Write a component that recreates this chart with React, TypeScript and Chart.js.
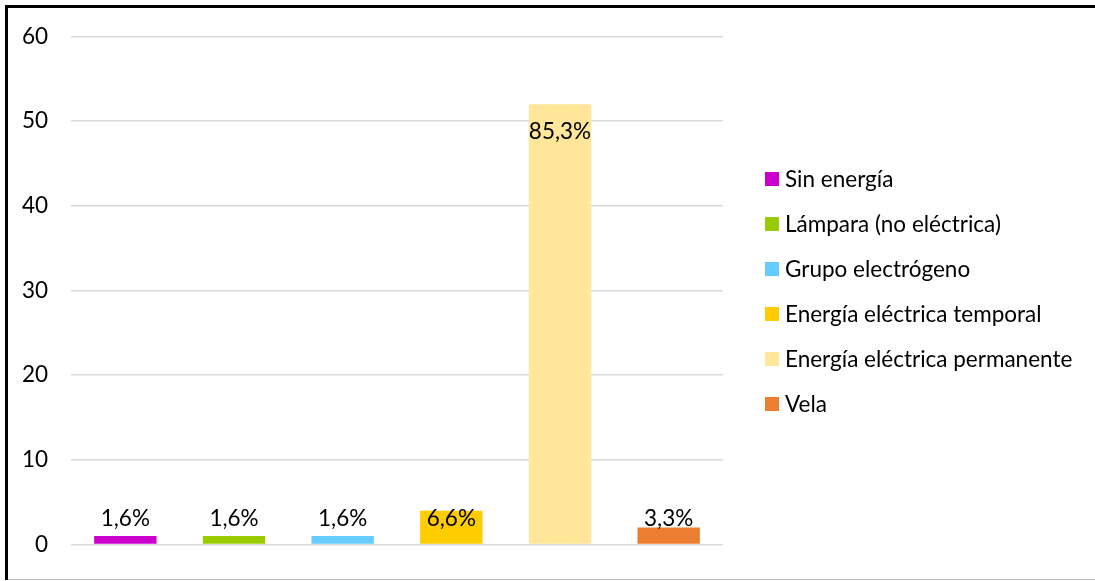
import React, { useEffect, useRef } from "react";
import { Chart, registerables } from "chart.js";

Chart.register(...registerables);

const categories = [
  "Sin energía",
  "Lámpara (no eléctrica)",
  "Grupo electrógeno",
  "Energía eléctrica temporal",
  "Energía eléctrica permanente",
  "Vela",
];
const values = [1, 1, 1, 4, 52, 2];
const percentLabels = ["1,6%", "1,6%", "1,6%", "6,6%", "85,3%", "3,3%"];
const colors = ["#CC00CC", "#99CC00", "#66CCFF", "#FFCC00", "#FFE699", "#ED7D31"];
const yTicks = [0, 10, 20, 30, 40, 50, 60];

const FONT = "Lato, 'Open Sans', sans-serif";
const FSIZE = 22.5;

const labelPlugin = {
  id: "pctLabels",
  afterDatasetsDraw(chart: any) {
    const ctx = chart.ctx;
    const meta = chart.getDatasetMeta(0);
    const yScale = chart.scales.y;
    ctx.save();
    ctx.font = `${FSIZE}px ${FONT}`;
    ctx.fillStyle = "#000";
    ctx.textAlign = "center";
    ctx.textBaseline = "middle";
    meta.data.forEach((bar: any, i: number) => {
      const v = values[i];
      let y: number;
      if (v > 10) {
        y = bar.y + 28;
      } else {
        y = yScale.getPixelForValue(3);
      }
      ctx.fillText(percentLabels[i], bar.x, y);
    });
    ctx.restore();
  },
};

const legendPlugin = {
  id: "customLegend",
  afterDraw(chart: any) {
    const ctx = chart.ctx;
    const area = chart.chartArea;
    const x = area.right + 42;
    const spacing = 45;
    const mid = (area.top + area.bottom) / 2;
    const startY = mid - (spacing * (categories.length - 1)) / 2 + 1;
    ctx.save();
    ctx.font = `${FSIZE}px ${FONT}`;
    ctx.textBaseline = "middle";
    ctx.textAlign = "left";
    categories.forEach((c, i) => {
      const cy = startY + i * spacing;
      ctx.fillStyle = colors[i];
      ctx.fillRect(x, cy - 7, 14, 14);
      ctx.fillStyle = "#000";
      ctx.fillText(c, x + 20, cy + 1);
    });
    ctx.restore();
  },
};

const framePlugin = {
  id: "frame",
  beforeDraw(chart: any) {
    const ctx = chart.ctx;
    const w = chart.width;
    const h = chart.height;
    ctx.save();
    ctx.fillStyle = "#fff";
    ctx.fillRect(0, 0, w, h);
    ctx.fillStyle = "#bfbfbf";
    ctx.fillRect(5, h - 2, w - 5, 1);
    ctx.fillStyle = "#000";
    ctx.fillRect(5, 5, w - 5, 3);
    ctx.fillRect(5, 5, 3, h - 6);
    ctx.restore();
  },
};

export default function App() {
  const ref = useRef<HTMLCanvasElement>(null);
  useEffect(() => {
    document.body.style.margin = "0";
    document.body.style.overflow = "hidden";
    if (!ref.current) return;
    const chart = new Chart(ref.current, {
      type: "bar",
      data: {
        labels: categories,
        datasets: [
          {
            data: values,
            backgroundColor: colors,
            borderWidth: 0,
            barPercentage: 0.574,
            categoryPercentage: 1,
          },
        ],
      },
      options: {
        animation: false,
        responsive: false,
        maintainAspectRatio: false,
        layout: { padding: { left: 0, top: 35, right: 372, bottom: 28 } },
        plugins: {
          legend: { display: false },
          tooltip: { enabled: false },
        },
        scales: {
          x: { display: false },
          y: {
            min: 0,
            max: 60,
            afterBuildTicks: (s: any) => {
              s.ticks = yTicks.map((v) => ({ value: v }));
            },
            afterFit: (s: any) => {
              s.width = 71;
            },
            border: { display: false },
            grid: { color: "#d9d9d9", lineWidth: 1.5, drawTicks: false },
            ticks: {
              padding: 23,
              color: "#000",
              font: { family: FONT, size: FSIZE },
            },
          },
        },
      },
      plugins: [framePlugin, labelPlugin, legendPlugin],
    });
    return () => chart.destroy();
  }, []);
  return (
    <div style={{ width: 1095, height: 581, background: "#fff" }}>
      <canvas ref={ref} width={1095} height={581} style={{ display: "block", width: 1095, height: 581 }} />
    </div>
  );
}
